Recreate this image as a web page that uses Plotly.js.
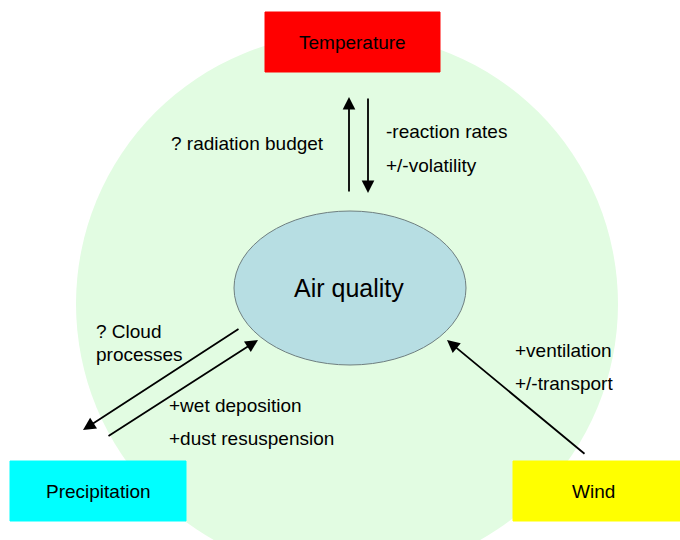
<!DOCTYPE html>
<html>
<head>
<meta charset="utf-8">
<script src="https://cdn.plot.ly/plotly-3.0.1.min.js"></script>
<style>
  body { margin: 0; background: #fff; }
  #diagram { width: 680px; height: 540px; }
</style>
</head>
<body>
<div id="diagram"></div>
<script>
// Nodes of the diagram
const nodeNames = ['Temperature', 'Precipitation', 'Wind'];
const nodeColors = ['#FF0000', '#00FFFF', '#FFFF00'];
const centreName = 'Air quality';

// Labels beside each link
const tempLeftLabels = ['? radiation budget'];
const tempRightLabels = ['-reaction rates', '+/-volatility'];
const precipUpperLabels = ['? Cloud', 'processes'];
const precipLowerLabels = ['+wet deposition', '+dust resuspension'];
const windLabels = ['+ventilation', '+/-transport'];

// Geometry (pixel space, y down)
const boxes = [
  { x0: 265, x1: 440, y0: 12, y1: 72 },
  { x0: 10, x1: 186, y0: 461, y1: 521 },
  { x0: 513, x1: 680, y0: 461, y1: 521 }
];
const arrows = [
  { from: [349, 193], to: [349, 97] },
  { from: [368, 97], to: [368, 193] },
  { from: [240, 328], to: [83, 430] },
  { from: [107, 437], to: [258, 340] },
  { from: [586, 455], to: [447, 340] }
];

const font = { family: 'Liberation Sans, Arial, sans-serif', size: 19, color: '#000' };

function buildDiagram() {
  const shapes = [];
  const annotations = [];

  // background circle
  shapes.push({
    type: 'circle', xref: 'x', yref: 'y',
    x0: 76, x1: 618, y0: 33, y1: 575,
    fillcolor: '#E2FCE2', line: { width: 0 }, layer: 'below'
  });

  // centre ellipse
  shapes.push({
    type: 'circle', xref: 'x', yref: 'y',
    x0: 234, x1: 466, y0: 211, y1: 365,
    fillcolor: '#B7DEE3', line: { color: '#6F7F80', width: 1 }, layer: 'below'
  });
  annotations.push({
    x: 349, y: 288, text: centreName, showarrow: false,
    font: { ...font, size: 25 }
  });

  // node boxes
  nodeNames.forEach((name, i) => {
    const b = boxes[i];
    shapes.push({
      type: 'rect', xref: 'x', yref: 'y',
      x0: b.x0, x1: b.x1, y0: b.y0, y1: b.y1,
      fillcolor: nodeColors[i], line: { color: nodeColors[i], width: 1 }
    });
    annotations.push({
      x: (b.x0 + b.x1) / 2 + (i === 2 ? -3 : 0), y: (b.y0 + b.y1) / 2,
      text: name, showarrow: false, font: font
    });
  });

  // arrows
  arrows.forEach(a => {
    annotations.push({
      x: a.to[0], y: a.to[1], ax: a.from[0], ay: a.from[1],
      xref: 'x', yref: 'y', axref: 'x', ayref: 'y',
      text: '', showarrow: true, arrowhead: 2, arrowsize: 1.4,
      arrowwidth: 1.8, arrowcolor: '#000'
    });
  });

  // link labels
  function addLines(lines, x, y0, step, anchor) {
    lines.forEach((t, k) => {
      annotations.push({
        x: x, y: y0 + k * step, text: t, showarrow: false,
        xanchor: anchor, font: font
      });
    });
  }
  addLines(tempLeftLabels, 326, 143, 34, 'right');
  addLines(tempRightLabels, 384, 131, 34, 'left');
  addLines(precipUpperLabels, 94, 331, 23, 'left');
  addLines(precipLowerLabels, 167, 405, 33, 'left');
  addLines(windLabels, 513, 350, 33, 'left');

  const layout = {
    width: 680, height: 540,
    margin: { l: 0, r: 0, t: 0, b: 0 },
    paper_bgcolor: '#fff', plot_bgcolor: '#fff',
    xaxis: { range: [0, 680], visible: false, fixedrange: true },
    yaxis: { range: [540, 0], visible: false, fixedrange: true },
    shapes: shapes,
    annotations: annotations,
    showlegend: false
  };

  Plotly.newPlot('diagram', [], layout, { staticPlot: true });
}

buildDiagram();
</script>
</body>
</html>
